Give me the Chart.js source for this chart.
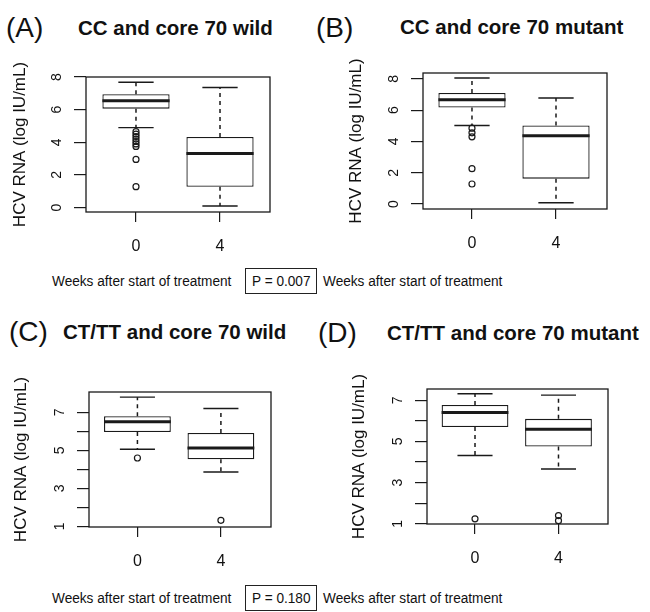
<!DOCTYPE html>
<html lang="en">
<head>
<meta charset="UTF-8">
<title>HCV RNA by week</title>
<script src="https://cdn.jsdelivr.net/npm/chart.js@4"></script>
<style>
  body { margin: 0; background: #fff; }
  #fig { position: relative; width: 650px; height: 612px; font-family: "Liberation Sans", Arial, sans-serif; color: #111; }
  #fig canvas { position: absolute; }
  .txt { position: absolute; white-space: nowrap; line-height: 1; transform: translateY(-50%); }
  .lab { font-size: 28px; }
  .ttl { font-size: 20.5px; font-weight: bold; }
  .wk { font-size: 15.5px; transform: translateY(-50%) scaleX(0.88); transform-origin: left center; }
  .pbox { position: absolute; border: 1px solid #222; width: 70px; height: 24px; line-height: 24px; text-align: center; }
  .pbox span { display: inline-block; font-size: 15.5px; transform: scaleX(0.88); }
</style>
</head>
<body>
<div id="fig">
  <div class="txt lab" style="left:6px;top:28px">(A)</div>
  <div class="txt ttl" style="left:78px;top:28px">CC and core 70 wild</div>
  <div class="txt lab" style="left:316px;top:28px">(B)</div>
  <div class="txt ttl" style="left:400px;top:27px">CC and core 70 mutant</div>

  <canvas id="chartA" width="280" height="210" style="left:0px;top:52px"></canvas>
  <canvas id="chartB" width="281" height="211" style="left:336px;top:48px"></canvas>

  <div class="txt wk" style="left:52px;top:281px">Weeks after start of treatment</div>
  <div class="pbox" style="left:245px;top:268px"><span>P = 0.007</span></div>
  <div class="txt wk" style="left:323px;top:281px">Weeks after start of treatment</div>

  <div class="txt lab" style="left:9px;top:332px">(C)</div>
  <div class="txt ttl" style="left:63px;top:332px">CT/TT and core 70 wild</div>
  <div class="txt lab" style="left:318px;top:333px">(D)</div>
  <div class="txt ttl" style="left:387px;top:333px">CT/TT and core 70 mutant</div>

  <canvas id="chartC" width="280" height="210" style="left:1px;top:367px"></canvas>
  <canvas id="chartD" width="279" height="210" style="left:339px;top:364px"></canvas>

  <div class="txt wk" style="left:52px;top:598px">Weeks after start of treatment</div>
  <div class="pbox" style="left:245px;top:585px"><span>P = 0.180</span></div>
  <div class="txt wk" style="left:323px;top:598px">Weeks after start of treatment</div>
</div>

<script>
// x categories (weeks after start of treatment)
const weekLabels = ['0', '4'];

// y ticks
const ticksCC = [0, 2, 4, 6, 8];
const labelsCC = [0, 2, 4, 6, 8];
const ticksCT = [1, 2, 3, 4, 5, 6, 7];
const labelsCT = [1, 3, 5, 7];

// box stats: [lower whisker, Q1, median, Q3, upper whisker]
const ccWild0 = [4.9, 6.06, 6.55, 6.95, 7.68];
const ccWild4 = [0.1, 1.28, 3.32, 4.33, 7.36];
const ccWildOut0 = [4.65, 4.5, 4.35, 4.2, 4.05, 3.9, 3.75, 2.95, 1.28];
const ccWildOut4 = [];

const ccMut0 = [5.02, 6.17, 6.67, 7.1, 8.06];
const ccMut4 = [0.08, 1.62, 4.36, 5.02, 6.78];
const ccMutOut0 = [4.85, 4.55, 4.3, 2.26, 1.28];
const ccMutOut4 = [];

const ctWild0 = [5.06, 5.96, 6.5, 6.8, 7.8];
const ctWild4 = [3.86, 4.53, 5.12, 5.91, 7.2];
const ctWildOut0 = [4.6];
const ctWildOut4 = [1.32];

const ctMut0 = [4.32, 5.7, 6.41, 6.77, 7.32];
const ctMut4 = [3.66, 4.75, 5.6, 6.1, 7.25];
const ctMutOut0 = [1.24];
const ctMutOut4 = [1.15, 1.4];

Chart.defaults.font.family = '"Liberation Sans", Arial, sans-serif';
Chart.defaults.color = '#111';

const INK = '#1a1a1a';
const CAP = 0.21;   // half width of whisker caps (x units)
const HALF = 0.4;   // half width of box (x units)

// plot frame like R's box()
const frame = {
  id: 'frame',
  afterDatasetsDraw(chart) {
    const a = chart.chartArea, c = chart.ctx;
    c.save();
    c.strokeStyle = INK;
    c.lineWidth = 1.3;
    c.strokeRect(a.left, a.top, a.right - a.left, a.bottom - a.top);
    c.restore();
  }
};

function boxChart(id, lim, yTicks, yShown, s0, s4, o0, o4) {
  const stats = [s0, s4];
  const outs = [o0, o4];
  const boxes = [], whisk = [], caps = [], meds = [], pts = [];
  stats.forEach((s, i) => {
    const x = i + 1;
    boxes.push({ x: x, y: [s[1], s[3]] });
    whisk.push({ x: x, y: s[3] }, { x: x, y: s[4] }, { x: x, y: null },
               { x: x, y: s[1] }, { x: x, y: s[0] }, { x: x, y: null });
    caps.push({ x: x - CAP, y: s[4] }, { x: x + CAP, y: s[4] }, { x: x, y: null },
              { x: x - CAP, y: s[0] }, { x: x + CAP, y: s[0] }, { x: x, y: null });
    meds.push({ x: x - HALF, y: s[2] }, { x: x + HALF, y: s[2] }, { x: x, y: null });
    outs[i].forEach(v => pts.push({ x: x, y: v }));
  });

  new Chart(document.getElementById(id), {
    type: 'bar',
    data: {
      datasets: [
        { type: 'bar', data: boxes, backgroundColor: '#fff', borderColor: INK, borderWidth: 1.3,
          borderSkipped: false, barPercentage: 0.8, categoryPercentage: 1, order: 4 },
        { type: 'line', data: whisk, borderColor: INK, borderWidth: 1.5, borderDash: [4, 4],
          pointRadius: 0, spanGaps: false, fill: false, order: 3 },
        { type: 'line', data: caps, borderColor: INK, borderWidth: 1.4,
          pointRadius: 0, spanGaps: false, fill: false, order: 3 },
        { type: 'line', data: meds, borderColor: INK, borderWidth: 3,
          pointRadius: 0, spanGaps: false, fill: false, order: 1 },
        { type: 'scatter', data: pts, pointRadius: 3, pointStyle: 'circle', borderColor: INK,
          borderWidth: 1.2, backgroundColor: 'rgba(0,0,0,0)', order: 0 }
      ]
    },
    options: {
      responsive: false,
      animation: false,
      layout: { padding: { top: 25, left: 0, right: 10, bottom: 0 } },
      plugins: { legend: { display: false }, tooltip: { enabled: false } },
      scales: {
        x: {
          type: 'linear', min: lim.x0, max: lim.x1, offset: false,
          grid: { offset: false, drawOnChartArea: false, drawTicks: true, tickLength: 10, color: INK, lineWidth: 1.2 },
          border: { display: false },
          ticks: { autoSkip: false, padding: 15, maxRotation: 0, font: { size: 16 }, color: '#111',
                   callback: (v, i) => weekLabels[i] },
          afterBuildTicks: s => { s.ticks = weekLabels.map((w, i) => ({ value: i + 1 })); },
          afterFit: s => { s.height = 50; }
        },
        y: {
          type: 'linear', min: lim.y0, max: lim.y1, beginAtZero: false,
          grid: { drawOnChartArea: false, drawTicks: true, tickLength: 12, color: INK, lineWidth: 1.2 },
          border: { display: false },
          ticks: { autoSkip: false, padding: 13, minRotation: 90, maxRotation: 90, crossAlign: 'center',
                   font: { size: 14 }, color: '#111',
                   callback: v => yShown.includes(v) ? String(v) : '' },
          afterBuildTicks: s => { s.ticks = yTicks.map(v => ({ value: v })); },
          afterFit: s => { s.width = lim.yw; },
          title: { display: true, text: 'HCV RNA (log IU/mL)', font: { size: 17 }, color: '#111',
                   padding: { top: 10, bottom: 0 } }
        }
      }
    },
    plugins: [frame]
  });
}

boxChart('chartA', { x0: 0.405, x1: 2.595, y0: -0.27, y1: 8.0, yw: 86 },
         ticksCC, labelsCC, ccWild0, ccWild4, ccWildOut0, ccWildOut4);
boxChart('chartB', { x0: 0.417, x1: 2.607, y0: -0.32, y1: 8.38, yw: 87 },
         ticksCC, labelsCC, ccMut0, ccMut4, ccMutOut0, ccMutOut4);
boxChart('chartC', { x0: 0.42, x1: 2.6, y0: 0.97, y1: 8.07, yw: 88 },
         ticksCT, labelsCT, ctWild0, ctWild4, ctWildOut0, ctWildOut4);
boxChart('chartD', { x0: 0.425, x1: 2.593, y0: 0.99, y1: 7.55, yw: 88 },
         ticksCT, labelsCT, ctMut0, ctMut4, ctMutOut0, ctMutOut4);
</script>
</body>
</html>
